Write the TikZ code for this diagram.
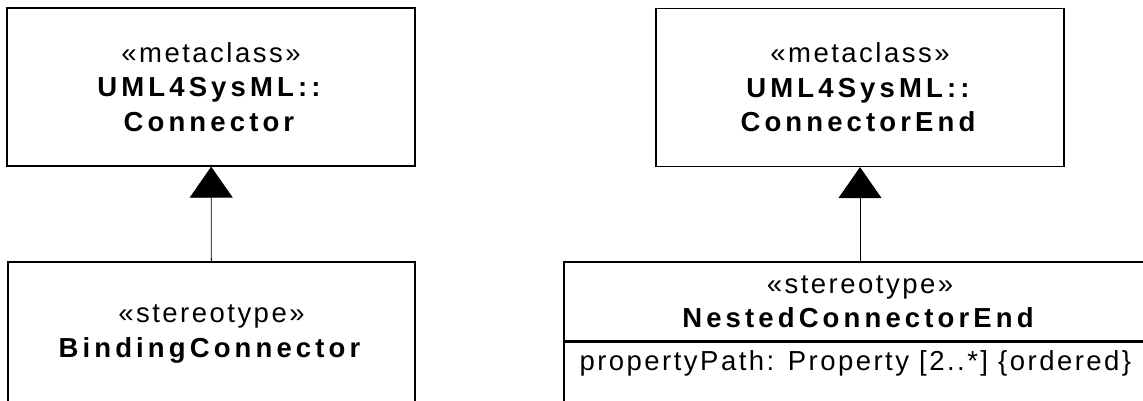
\documentclass[tikz,border=0pt]{standalone}
\usepackage{fontspec}
\setmainfont{Liberation Sans}[LetterSpace=9, BoldFeatures={LetterSpace=15}]
\usetikzlibrary{positioning,arrows.meta}
\newcommand{\txt}{\fontsize{27.5}{34.5}\selectfont}
\tikzset{
  cls/.style  ={draw=black, line width=1.3pt, align=center, inner sep=0pt, minimum width=408pt, font=\txt},
  cmp/.style  ={draw=black, line width=1.3pt, inner sep=0pt, minimum width=592pt},
  gen/.style  ={draw=black, line width=.8pt, -{Triangle[length=31pt,width=43pt]}},
  attr/.style ={font=\txt, anchor=base west, inner sep=0pt},
}
\begin{document}
\begin{tikzpicture}[x=1pt,y=-1pt]
    \clip (0,0) rectangle (1143,401);
    % metaclasses
    \node[cls,minimum height=158pt] (conn) at (211,87)
      {«metaclass»\\ \textbf{UML4SysML::}\\ \textbf{Connector}};
    \node[cls,minimum height=158pt] (cend) at (860,87.5)
      {«metaclass»\\ \textbf{UML4SysML::}\\ \textbf{ConnectorEnd}};
    % stereotypes
    \node[cls,minimum width=407pt,minimum height=144pt] (bind) at (211.5,334)
      {«stereotype»\\ \textbf{BindingConnector}};
    \node[cls,cmp,minimum height=79pt] (nest) at (860,301.5)
      {«stereotype»\\ \textbf{NestedConnectorEnd}};
    \node[cmp,minimum height=66pt,below=0pt of nest] (nestattr) {};
    \node[attr] (path) at ([xshift=16pt,yshift=-29pt]nestattr.north west)
      {propertyPath: Property [2..*] \{ordered\}};
    % generalizations
    \draw[gen] (bind) -- (conn);
    \draw[gen] (nest) -- (cend);
\end{tikzpicture}
\end{document}
